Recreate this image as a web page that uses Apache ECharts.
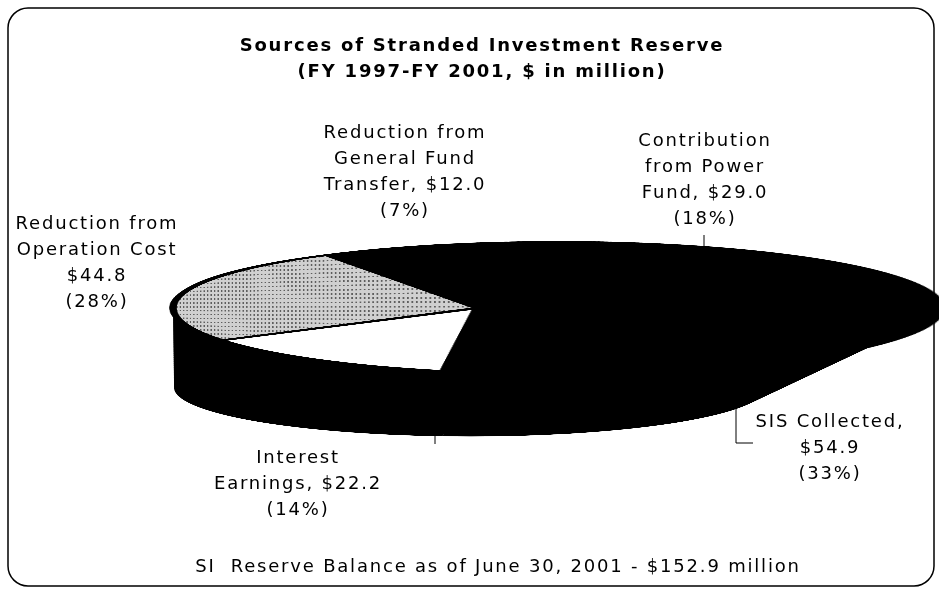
<!DOCTYPE html>
<html>
<head>
<meta charset="utf-8">
<script src="https://cdn.jsdelivr.net/npm/echarts@6/dist/echarts.min.js"></script>
<style>
html, body { margin: 0; padding: 0; background: #fff; overflow: hidden; width: 939px; height: 590px; }
#main { position: absolute; left: 0; top: 0; width: 939px; height: 590px; z-index: 3; }
#main svg text { letter-spacing: 1.8px; }
#side { position: absolute; left: 0; width: 939px; z-index: 1; transform-origin: 0 0; }
#face { position: absolute; left: 0; top: 0; z-index: 2; transform-origin: 0 0; }
</style>
</head>
<body>
<div id="side"></div>
<div id="face"></div>
<div id="main"></div>
<script>
// slices, counter-clockwise from the top right
var names = ['Contribution from Power Fund', 'Reduction from General Fund Transfer', 'Reduction from Operation Cost', 'Interest Earnings', 'SIS Collected'];
var values = [29.0, 12.0, 44.8, 22.2, 54.9];
var percents = [18, 7, 28, 14, 33];
var labelNames = ['Contribution\nfrom Power\nFund, ', 'Reduction from\nGeneral Fund\nTransfer, ', 'Reduction from\nOperation Cost\n', 'Interest\nEarnings, ', 'SIS Collected,\n'];
var sliceColors = ['#000000', '#000000', '#d0d0d0', '#ffffff', '#000000'];
var balance = 152.9;

var FONT = '"DejaVu Sans", "Liberation Sans", Arial, sans-serif';
var START = 26;

function pieSeries(center, radius, data, extra) {
    var o = {
        type: 'pie', silent: true, clockwise: false, startAngle: START,
        center: center, radius: radius,
        label: {show: false}, labelLine: {show: false},
        data: data
    };
    for (var k in extra) o[k] = extra[k];
    return o;
}

// ---- black body of the 3d pie: swept from top ellipse to a smaller bottom one
var CX = 555, CY = 305, R = 382, RY = 63;
var BX = 470, BR = 296, DEPTH = 83;
var s = RY / R;
var depthC = DEPTH / s;
var cyC = R + 10;
var sideDiv = document.getElementById('side');
sideDiv.style.height = (cyC + depthC + BR + 10) + 'px';
sideDiv.style.top = (CY - cyC * s) + 'px';
sideDiv.style.transform = 'scaleY(' + s + ')';

var sideData = names.map(function (n, i) {
    return {name: n, value: values[i], itemStyle: {color: '#000'}};
});
var sideSeries = [];
var STEPS = 40;
for (var k = STEPS; k >= 0; k--) {
    var t = k / STEPS;
    sideSeries.push(pieSeries([CX + (BX - CX) * t, cyC + depthC * t], R + (BR - R) * t, sideData, {}));
}
echarts.init(sideDiv).setOption({animation: false, series: sideSeries});

// ---- top face: flat pie mapped with a perspective homography
var FL = 173, FR = 937, AX = 478, AY = 308, FT = 242;
var g = (2 * AX - FL - FR) / (FR - FL);          // perspective term
var al = FR * (1 + g) - AX;
var de = (AY - FT) * Math.sqrt(1 - g * g);
var Rc = 382, cu = Rc + 10, cv = Rc + 10;
var faceDiv = document.getElementById('face');
faceDiv.style.width = (2 * cu) + 'px';
faceDiv.style.height = (2 * cv) + 'px';
var a = al, c = AX * Rc - al * cu;
var d = AY * g, e = de, f = AY * Rc - de * cv - AY * g * cu;
var gg = g, ii = Rc - g * cu;
var m = [a / ii, d / ii, 0, gg / ii, 0, e / ii, 0, 0, 0, 0, 1, 0, c / ii, f / ii, 0, 1];
faceDiv.style.transform = 'matrix3d(' + m.join(',') + ')';

var stipple = {symbol: 'rect', symbolSize: 1, dashArrayX: [2, 3], dashArrayY: [11, 16], color: 'rgba(0,0,0,0.55)'};
var topData = names.map(function (n, i) {
    var st = {color: sliceColors[i]};
    if (i === 2) st.decal = stipple;
    return {name: n, value: values[i], itemStyle: st};
});
echarts.init(faceDiv).setOption({
    animation: false,
    series: [pieSeries([cu, cv], Rc, topData, {itemStyle: {borderColor: '#000', borderWidth: 11}})]
});

// ---- frame, title and labels
var labelPos = [[705, 126], [405, 118], [97, 209], [298, 443], [830, 407]];
var graphics = [{
    type: 'rect',
    shape: {x: 8, y: 8, width: 926, height: 578, r: 20},
    style: {fill: null, stroke: '#000', lineWidth: 1.5}
}];
names.forEach(function (n, i) {
    graphics.push({
        type: 'text',
        x: labelPos[i][0], y: labelPos[i][1],
        style: {
            text: labelNames[i] + '$' + values[i].toFixed(1) + '\n(' + percents[i] + '%)',
            fontFamily: FONT, fontSize: 18, lineHeight: 26,
            fill: '#000', align: 'center', verticalAlign: 'top'
        }
    });
});
var leaders = [
    [[704, 235], [704, 250], [643, 250]],
    [[736, 408], [736, 443], [753, 443]],
    [[435, 436], [435, 444]]
];
leaders.forEach(function (p) {
    graphics.push({type: 'polyline', shape: {points: p}, style: {stroke: '#000', lineWidth: 1, fill: null}});
});
graphics.push({
    type: 'text', x: 498, y: 556,
    style: {
        text: 'SI  Reserve Balance as of June 30, 2001 - $' + balance.toFixed(1) + ' million',
        fontFamily: FONT, fontSize: 18, fill: '#000', align: 'center', verticalAlign: 'top'
    }
});

var chart = echarts.init(document.getElementById('main'), null, {renderer: 'svg'});
chart.setOption({
    animation: false,
    title: {
        text: 'Sources of Stranded Investment Reserve',
        subtext: '(FY 1997-FY 2001, $ in million)',
        left: 477, textAlign: 'center', top: 30, itemGap: 8,
        textStyle: {fontFamily: FONT, fontSize: 18, fontWeight: 'bold', color: '#000'},
        subtextStyle: {fontFamily: FONT, fontSize: 18, fontWeight: 'bold', color: '#000'}
    },
    graphic: graphics
});
</script>
</body>
</html>
